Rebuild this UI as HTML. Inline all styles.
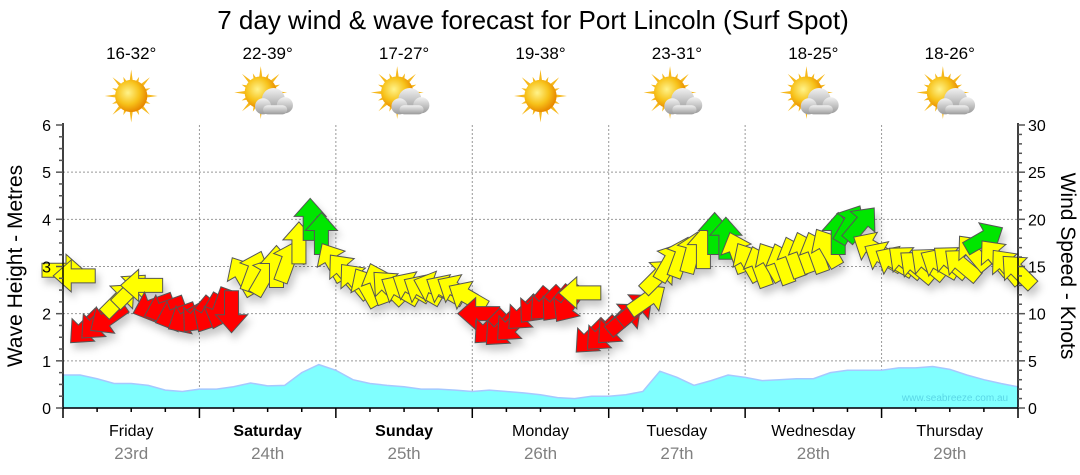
<!DOCTYPE html>
<html><head><meta charset="utf-8"><style>
html,body{margin:0;padding:0;background:#fff;}
svg{display:block;font-family:"Liberation Sans",sans-serif;}
</style></head><body>
<svg id="chart" width="1080" height="475" viewBox="0 0 1080 475">
<defs>
<filter id="sh" x="-50%" y="-50%" width="200%" height="200%"><feDropShadow dx="3" dy="6" stdDeviation="4" flood-color="#000" flood-opacity="0.22"/></filter>
<radialGradient id="sunG" cx="0.4" cy="0.4" r="0.6"><stop offset="0" stop-color="#fff38a"/><stop offset="0.6" stop-color="#f7c21a"/><stop offset="1" stop-color="#e88a00"/></radialGradient>
<linearGradient id="cloudG" x1="0" y1="0" x2="0" y2="1"><stop offset="0" stop-color="#f2f2f2"/><stop offset="1" stop-color="#9a9a9a"/></linearGradient>
</defs>
<text x="533" y="29" text-anchor="middle" font-size="26" fill="#000">7 day wind &amp; wave forecast for Port Lincoln (Surf Spot)</text>
<g id="header"></g>
<g id="grid"></g>
<g id="wave"></g>
<g id="wind" filter="url(#sh)"></g>
<g id="axes"></g>
<text x="955" y="401" text-anchor="middle" font-size="10" fill="#5ad6e6">www.seabreeze.com.au</text>
<text transform="translate(22,266) rotate(-90)" text-anchor="middle" font-size="21" fill="#000">Wave Height - Metres</text>
<text transform="translate(1061,266) rotate(90)" text-anchor="middle" font-size="21" fill="#000">Wind Speed - Knots</text>
</svg>
<script>
const days=["Friday","Saturday","Sunday","Monday","Tuesday","Wednesday","Thursday"];
const dates=["23rd","24th","25th","26th","27th","28th","29th"];
const temps=["16-32°","22-39°","17-27°","19-38°","23-31°","18-25°","18-26°"];
const cloudy=[false,true,true,false,true,true,true];
const waveHeights=[.70,.70,.62,.52,.52,.48,.38,.35,.40,.40,.45,.53,.47,.48,.75,.92,.80,.60,.52,.48,.45,.40,.40,.38,.35,.38,.35,.32,.28,.22,.20,.25,.25,.28,.35,.78,.65,.48,.58,.70,.65,.58,.60,.62,.62,.75,.80,.80,.80,.85,.85,.88,.82,.70,.60,.52,.45];
const windSpeeds=[14.6,14,8.5,9,9.5,11.5,12.5,13,10.8,10.5,9.8,9.5,9.8,10,10.5,10.2,14,14.5,14,15,15.5,17.5,20,18.5,15.5,14.5,13.5,12.8,13.2,12.8,12.5,12.8,12.5,12.8,12.5,12.5,11.8,10,8.5,8.3,8.8,10,10.8,11,11,11,12.2,7.5,7.8,8.5,9.5,10.5,11.5,14,15.5,16,16.5,17,18.5,18,16.5,15.5,15,15.5,15.3,16,16.5,16.5,17,18.5,19.5,19.5,17,16,15.5,15.5,15,15.3,15.3,15.5,15.2,16.5,18,16,15,14.5];
const windDirs=[90,270,225,225,235,45,45,270,250,250,250,240,220,210,200,180,330,20,30,0,20,0,0,0,330,320,320,330,340,315,300,300,300,290,300,300,300,270,225,225,225,225,220,225,220,215,270,225,225,225,50,50,55,45,30,20,15,0,0,0,340,330,340,330,340,340,340,340,330,0,30,40,300,300,300,310,310,310,300,310,310,320,60,320,320,315];
const leftTicks=[0,1,2,3,4,5,6];
const rightTicks=[0,5,10,15,20,25,30];
const NS="http://www.w3.org/2000/svg";
const X0=63,X1=1018,Y0=408,Y1=125,HOURS=168;
const xH=h=>X0+(X1-X0)*h/HOURS;
const yM=m=>Y0-(Y0-Y1)*m/6;
const yK=k=>Y0-(Y0-Y1)*k/30;
function mk(p,tag,at){const e=document.createElementNS(NS,tag);for(const k in at)e.setAttribute(k,at[k]);p.appendChild(e);return e;}
const G=id=>document.getElementById(id);
const hd=G('header');
days.forEach((d,i)=>{
 const cx=xH(24*i+12);
 const t=mk(hd,'text',{x:cx,y:59,'text-anchor':'middle','font-size':17,fill:'#000'});t.textContent=temps[i];
 
 
 const g=mk(hd,'g',{transform:`translate(${cx},${96}) scale(1.15)`});
 
 
 const sx=cloudy[i]?-6:0,sy=cloudy[i]?-3:0;
 for(let r=0;r<16;r++){const a=r*Math.PI/8,l=(r%2?18:23);
  mk(g,'polygon',{points:`${sx+Math.cos(a-0.13)*12},${sy+Math.sin(a-0.13)*12} ${sx+Math.cos(a)*l},${sy+Math.sin(a)*l} ${sx+Math.cos(a+0.13)*12},${sy+Math.sin(a+0.13)*12}`,fill:'#f6b81c'});}
 mk(g,'circle',{cx:sx,cy:sy,r:14,fill:'url(#sunG)'});
 if(cloudy[i]){
  const c=mk(g,'g',{fill:'url(#cloudG)'});
  mk(c,'circle',{cx:5,cy:3,r:10});mk(c,'circle',{cx:-4,cy:9,r:7});mk(c,'circle',{cx:15,cy:8,r:7});
  mk(c,'rect',{x:-4,y:8,width:21,height:8,rx:4});
 }
});
const gr=G('grid');
leftTicks.slice(1,6).forEach(m=>mk(gr,'line',{x1:X0,x2:X1,y1:yM(m),y2:yM(m),stroke:'#999','stroke-dasharray':'2,2'}));
for(let d=1;d<7;d++)mk(gr,'line',{x1:xH(24*d),x2:xH(24*d),y1:Y1,y2:Y0,stroke:'#999','stroke-dasharray':'2,2'});
const wv=G('wave');
let pd=`M${X0},${Y0}`;
waveHeights.forEach((m,i)=>{pd+=` L${xH(i*HOURS/(waveHeights.length-1))},${yM(m)}`;});
pd+=` L${X1},${Y0} Z`;
const wa=mk(wv,'path',{d:pd,fill:'#80ffff',stroke:'#a6c8ff','stroke-width':1.5});


const wd=G('wind');
const arrowPts="-21,-7 3,-7 3,-16 21,0 3,16 3,7 -21,7";
windSpeeds.forEach((k,i)=>{
 const h=i*HOURS/(windSpeeds.length-1);
 const col=k<11.2?'#ff0000':(k<17.8?'#ffff00':'#00e600');
 const a=mk(wd,'polygon',{points:arrowPts,fill:col,stroke:'#555','stroke-width':1,transform:`translate(${xH(h)},${yK(k)}) rotate(${windDirs[i]-90})`});
 
 
});
const ax=G('axes');
mk(ax,'line',{x1:X0,x2:X0,y1:Y1-2,y2:Y0,stroke:'#000','stroke-width':1.5});
mk(ax,'line',{x1:X1,x2:X1,y1:Y1-2,y2:Y0,stroke:'#000','stroke-width':1.5});
mk(ax,'line',{x1:X0,x2:X1,y1:Y0,y2:Y0,stroke:'#000','stroke-width':1.5});
for(let m=0;m<=6.001;m+=0.25)mk(ax,'line',{x1:X0-(m%1===0?7:4),x2:X0,y1:yM(m),y2:yM(m),stroke:'#555','stroke-width':1.5});
for(let k=0;k<=30;k++)mk(ax,'line',{x1:X1,x2:X1+(k%5===0?7:4),y1:yK(k),y2:yK(k),stroke:'#555','stroke-width':1.5});
leftTicks.forEach(m=>{const t=mk(ax,'text',{x:51,y:yM(m)+6,'text-anchor':'end','font-size':16});t.textContent=m;
 
 });
rightTicks.forEach(k=>{const t=mk(ax,'text',{x:1028,y:yK(k)+6,'font-size':16});t.textContent=k;
 
 });
for(let h=0;h<=HOURS;h+=6)mk(ax,'line',{x1:xH(h),x2:xH(h),y1:Y0,y2:Y0+(h%24===0?10:4),stroke:'#000','stroke-width':1.5});
days.forEach((d,i)=>{
 const cx=xH(24*i+12);
 const t=mk(ax,'text',{x:cx,y:436,'text-anchor':'middle','font-size':16,'font-weight':(i===1||i===2)?'bold':'normal'});t.textContent=d;
 
 
 const t2=mk(ax,'text',{x:cx,y:459,'text-anchor':'middle','font-size':17,fill:'#808080'});t2.textContent=dates[i];
 
 
});
</script>
</body></html>
